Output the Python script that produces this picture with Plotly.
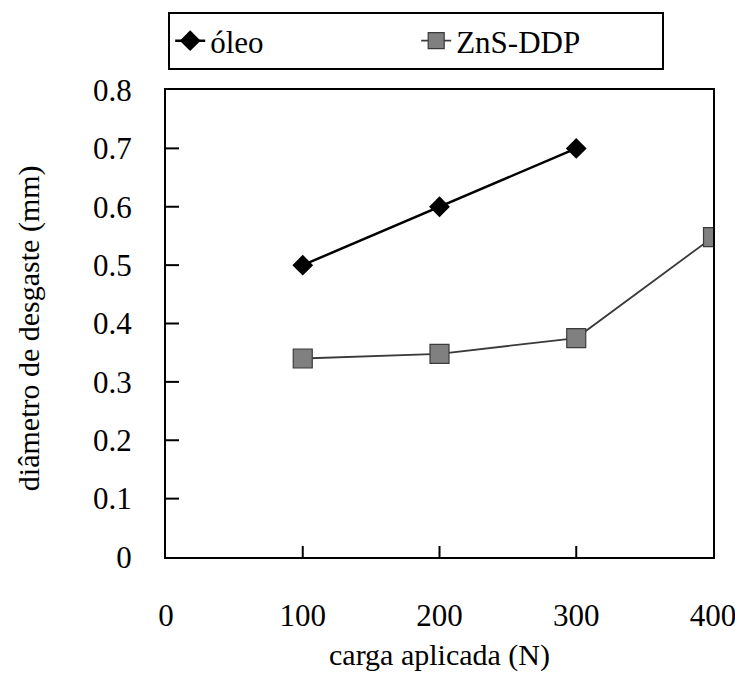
import plotly.graph_objects as go

carga = [100, 200, 300, 400]
oleo = [0.50, 0.60, 0.70]
zns_ddp = [0.34, 0.348, 0.375, 0.548]
x_ticks = [0, 100, 200, 300, 400]
y_ticks = [0, 0.1, 0.2, 0.3, 0.4, 0.5, 0.6, 0.7, 0.8]
y_labels = ["0", "0.1", "0.2", "0.3", "0.4", "0.5", "0.6", "0.7", "0.8"]

FONT = "Liberation Serif"
X_RANGE = [0, 400]
Y_RANGE = [0, 0.8]
PLOT_W, PLOT_H = 547, 467

fig = go.Figure()

# inside tick marks, built from the tick arrays (length in data units ~ 11-13 px)
tx, ty = [], []
dy = (Y_RANGE[1] - Y_RANGE[0]) * 11 / PLOT_H
for v in x_ticks[1:-1]:
    tx += [v, v, None]
    ty += [Y_RANGE[0], Y_RANGE[0] + dy, None]
dx = (X_RANGE[1] - X_RANGE[0]) * 13 / PLOT_W
for v in y_ticks[1:-1]:
    tx += [X_RANGE[0], X_RANGE[0] + dx, None]
    ty += [v, v, None]
fig.add_trace(go.Scatter(x=tx, y=ty, mode="lines", showlegend=False,
                         hoverinfo="skip", line=dict(color="black", width=2)))

fig.add_trace(go.Scatter(
    x=carga[:3], y=oleo, name="óleo", mode="lines+markers",
    line=dict(color="black", width=2.5),
    marker=dict(symbol="diamond", size=16, color="black"),
))
fig.add_trace(go.Scatter(
    x=carga, y=zns_ddp, name="ZnS-DDP", mode="lines+markers",
    line=dict(color="#3a3a3a", width=1.8),
    marker=dict(symbol="square", size=19, color="#808080",
                line=dict(color="#3a3a3a", width=1.2)),
))

fig.update_layout(
    width=735, height=677,
    margin=dict(l=166, r=22, t=90, b=120),
    paper_bgcolor="white", plot_bgcolor="white",
    font=dict(family=FONT, color="black"),
    showlegend=True,
    legend=dict(
        orientation="h", x=0.004, y=1.167, xanchor="left", yanchor="top",
        font=dict(family=FONT, size=31, color="black"),
        bordercolor="black", borderwidth=2, bgcolor="white",
        entrywidth=201, entrywidthmode="pixels",
    ),
    xaxis=dict(
        range=X_RANGE, tickvals=x_ticks, ticktext=[str(v) for v in x_ticks],
        ticks="", showline=True, linecolor="black", linewidth=2, mirror=True,
        showgrid=False, zeroline=False, automargin=False,
        tickfont=dict(family=FONT, size=31), ticklabelstandoff=30,
        ticklabeloverflow="allow",
    ),
    yaxis=dict(
        range=Y_RANGE, tickvals=y_ticks, ticktext=y_labels,
        ticks="", showline=True, linecolor="black", linewidth=2, mirror=True,
        showgrid=False, zeroline=False, automargin=False,
        tickfont=dict(family=FONT, size=31), ticklabelstandoff=26,
    ),
    annotations=[
        dict(text="carga aplicada (N)", xref="paper", yref="paper",
             x=0.5, y=-0.21, xanchor="center", yanchor="middle",
             showarrow=False, font=dict(family=FONT, size=30)),
        dict(text="diâmetro de desgaste (mm)", xref="paper", yref="paper",
             x=-0.2505, y=0.49, xanchor="center", yanchor="middle", textangle=-90,
             showarrow=False, font=dict(family=FONT, size=30)),
    ],
)

fig.write_html("out.html")
